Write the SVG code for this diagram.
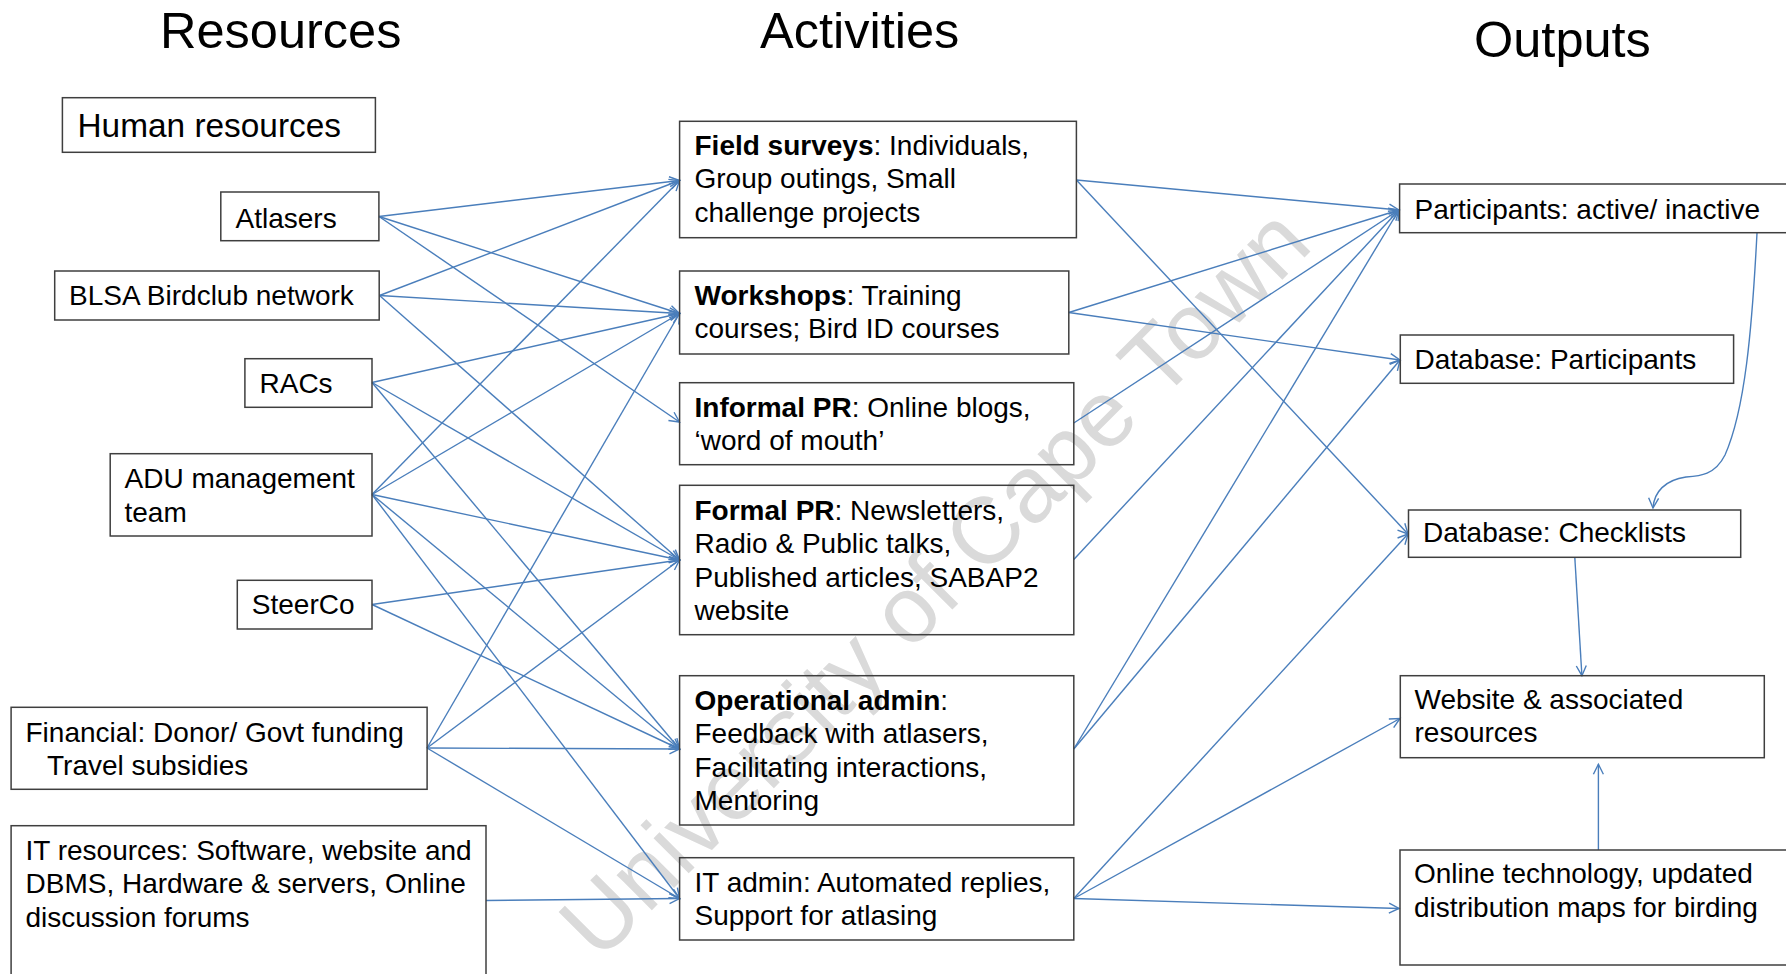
<svg xmlns="http://www.w3.org/2000/svg" width="1786" height="974" viewBox="0 0 1786 974">
<style>
.box{fill:none;stroke:#3f3f3f;stroke-width:1.5}
.t{font-family:"Liberation Sans",Arial,sans-serif;font-size:28px;fill:#000}
.h{font-size:33.4px}
.title{font-family:"Liberation Sans",Arial,sans-serif;font-size:50.5px;fill:#000}
.c{stroke:#4a7ebb;stroke-width:1.4;fill:none;marker-end:url(#arr)}
.b{font-weight:bold}
.wm{font-family:"Liberation Sans",Arial,sans-serif;font-size:94px;fill:#dadada}
</style>
<defs>
<marker id="arr" markerUnits="userSpaceOnUse" markerWidth="14" markerHeight="12" refX="11" refY="6" orient="auto" viewBox="0 0 14 12">
<path d="M1,1 L11,6 L1,11" fill="none" stroke="#4a7ebb" stroke-width="1.4"/>
</marker>
</defs>
<rect width="1786" height="974" fill="#fff"/>
<text class="wm" transform="translate(957,605) rotate(-45)" text-anchor="middle">University of Cape Town</text>

<g id="titles">
<text class="title" x="160" y="48">Resources</text>
<text class="title" x="760" y="48">Activities</text>
<text class="title" x="1474" y="57">Outputs</text>
</g>

<g id="connectors">
<line class="c" x1="379" y1="216.5" x2="679.5" y2="180.5"/>
<line class="c" x1="379" y1="216.5" x2="679.5" y2="313.5"/>
<line class="c" x1="379" y1="216.5" x2="679.5" y2="422"/>
<line class="c" x1="379.5" y1="295.5" x2="679.5" y2="180.5"/>
<line class="c" x1="379.5" y1="295.5" x2="679.5" y2="313.5"/>
<line class="c" x1="379.5" y1="295.5" x2="679.5" y2="560"/>
<line class="c" x1="372" y1="382.5" x2="679.5" y2="313.5"/>
<line class="c" x1="372" y1="382.5" x2="679.5" y2="560"/>
<line class="c" x1="372" y1="382.5" x2="679.5" y2="749"/>
<line class="c" x1="372" y1="494.5" x2="679.5" y2="180.5"/>
<line class="c" x1="372" y1="494.5" x2="679.5" y2="313.5"/>
<line class="c" x1="372" y1="494.5" x2="679.5" y2="560"/>
<line class="c" x1="372" y1="494.5" x2="679.5" y2="749"/>
<line class="c" x1="372" y1="494.5" x2="679.5" y2="898.5"/>
<line class="c" x1="372" y1="604.5" x2="679.5" y2="560"/>
<line class="c" x1="372" y1="604.5" x2="679.5" y2="749"/>
<line class="c" x1="427" y1="748" x2="679.5" y2="313.5"/>
<line class="c" x1="427" y1="748" x2="679.5" y2="560"/>
<line class="c" x1="427" y1="748" x2="679.5" y2="749"/>
<line class="c" x1="427" y1="748" x2="679.5" y2="898.5"/>
<line class="c" x1="486" y1="900.5" x2="679.5" y2="898.5"/>
<line class="c" x1="1076.4" y1="180" x2="1399" y2="210"/>
<line class="c" x1="1076.4" y1="180" x2="1408" y2="534"/>
<line class="c" x1="1068.8" y1="312.5" x2="1399" y2="210"/>
<line class="c" x1="1068.8" y1="312.5" x2="1400" y2="360"/>
<line class="c" x1="1073.8" y1="423" x2="1399" y2="210"/>
<line class="c" x1="1073.8" y1="559.5" x2="1399" y2="210"/>
<line class="c" x1="1073.8" y1="749" x2="1399" y2="210"/>
<line class="c" x1="1073.8" y1="749" x2="1400" y2="360"/>
<line class="c" x1="1073.8" y1="898.5" x2="1408" y2="534"/>
<line class="c" x1="1073.8" y1="898.5" x2="1400" y2="718.5"/>
<line class="c" x1="1073.8" y1="898.5" x2="1399" y2="908.5"/>
<path class="c" d="M1757,233 C1752,330 1745,410 1725,455 C1715,475 1700,476 1686,477 C1665,480 1654,492 1653,508"/>
<line class="c" x1="1574.8" y1="557.3" x2="1581.9" y2="675.7"/>
<line class="c" x1="1598.4" y1="850" x2="1598.4" y2="764.3"/>
</g>

<g id="human-resources">
<rect class="box" x="62.4" y="97.7" width="313" height="54.6"/>
<text class="t h" x="77.5" y="137">Human resources</text>
</g>
<g id="atlasers">
<rect class="box" x="220.8" y="192" width="158.1" height="48.7"/>
<text class="t" x="235.5" y="227.7">Atlasers</text>
</g>
<g id="blsa">
<rect class="box" x="54.7" y="271" width="324.5" height="49"/>
<text class="t" x="69" y="305">BLSA Birdclub network</text>
</g>
<g id="racs">
<rect class="box" x="244.9" y="358.7" width="127.1" height="48.6"/>
<text class="t" x="259.5" y="392.7">RACs</text>
</g>
<g id="adu">
<rect class="box" x="110.2" y="453.7" width="261.8" height="82.3"/>
<text class="t" x="124.5" y="488.3">ADU management<tspan x="124.5" y="521.7">team</tspan></text>
</g>
<g id="steerco">
<rect class="box" x="237.3" y="580.3" width="134.7" height="48.7"/>
<text class="t" x="251.8" y="614.3">SteerCo</text>
</g>
<g id="financial">
<rect class="box" x="11.1" y="707.3" width="416" height="82"/>
<text class="t" x="25.5" y="741.7">Financial: Donor/ Govt funding<tspan x="47" y="775">Travel subsidies</tspan></text>
</g>
<g id="it-resources">
<rect class="box" x="11.1" y="825.7" width="474.9" height="170"/>
<text class="t" x="25.5" y="860">IT resources: Software, website and<tspan x="25.5" y="893.3">DBMS, Hardware &amp; servers, Online</tspan><tspan x="25.5" y="926.7">discussion forums</tspan></text>
</g>

<g id="field-surveys">
<rect class="box" x="679.6" y="121.3" width="396.8" height="116.4"/>
<text class="t" x="694.5" y="155"><tspan class="b">Field surveys</tspan>: Individuals,<tspan x="694.5" y="188.3">Group outings, Small</tspan><tspan x="694.5" y="221.7">challenge projects</tspan></text>
</g>
<g id="workshops">
<rect class="box" x="679.6" y="271" width="389.2" height="83"/>
<text class="t" x="694.5" y="305"><tspan class="b">Workshops</tspan>: Training<tspan x="694.5" y="338.4">courses; Bird ID courses</tspan></text>
</g>
<g id="informal-pr">
<rect class="box" x="679.6" y="382.7" width="394.2" height="82"/>
<text class="t" x="694.5" y="416.7"><tspan class="b">Informal PR</tspan>: Online blogs,<tspan x="694.5" y="450">‘word of mouth’</tspan></text>
</g>
<g id="formal-pr">
<rect class="box" x="679.6" y="485.3" width="394.2" height="149.4"/>
<text class="t" x="694.5" y="520"><tspan class="b">Formal PR</tspan>: Newsletters,<tspan x="694.5" y="553.3">Radio &amp; Public talks,</tspan><tspan x="694.5" y="586.7">Published articles, SABAP2</tspan><tspan x="694.5" y="620">website</tspan></text>
</g>
<g id="operational-admin">
<rect class="box" x="679.6" y="675.7" width="394.2" height="149.3"/>
<text class="t" x="694.5" y="710"><tspan class="b">Operational admin</tspan>:<tspan x="694.5" y="743.3">Feedback with atlasers,</tspan><tspan x="694.5" y="776.7">Facilitating interactions,</tspan><tspan x="694.5" y="810">Mentoring</tspan></text>
</g>
<g id="it-admin">
<rect class="box" x="679.6" y="857.7" width="394.2" height="82.3"/>
<text class="t" x="694.5" y="891.7">IT admin: Automated replies,<tspan x="694.5" y="925">Support for atlasing</tspan></text>
</g>

<g id="participants">
<rect class="box" x="1399.6" y="184" width="400" height="48.7"/>
<text class="t" x="1414.5" y="219">Participants: active/ inactive</text>
</g>
<g id="db-participants">
<rect class="box" x="1400.3" y="335" width="333.3" height="48.3"/>
<text class="t" x="1414.5" y="369">Database: Participants</text>
</g>
<g id="db-checklists">
<rect class="box" x="1408.5" y="510" width="332.2" height="47.3"/>
<text class="t" x="1423" y="542.3">Database: Checklists</text>
</g>
<g id="website">
<rect class="box" x="1400.3" y="675.7" width="364" height="82"/>
<text class="t" x="1414.5" y="709.3">Website &amp; associated<tspan x="1414.5" y="741.7">resources</tspan></text>
</g>
<g id="online-technology">
<rect class="box" x="1400" y="850" width="400" height="115"/>
<text class="t" x="1414" y="883.3">Online technology, updated<tspan x="1414" y="916.7">distribution maps for birding</tspan></text>
</g>
</svg>
